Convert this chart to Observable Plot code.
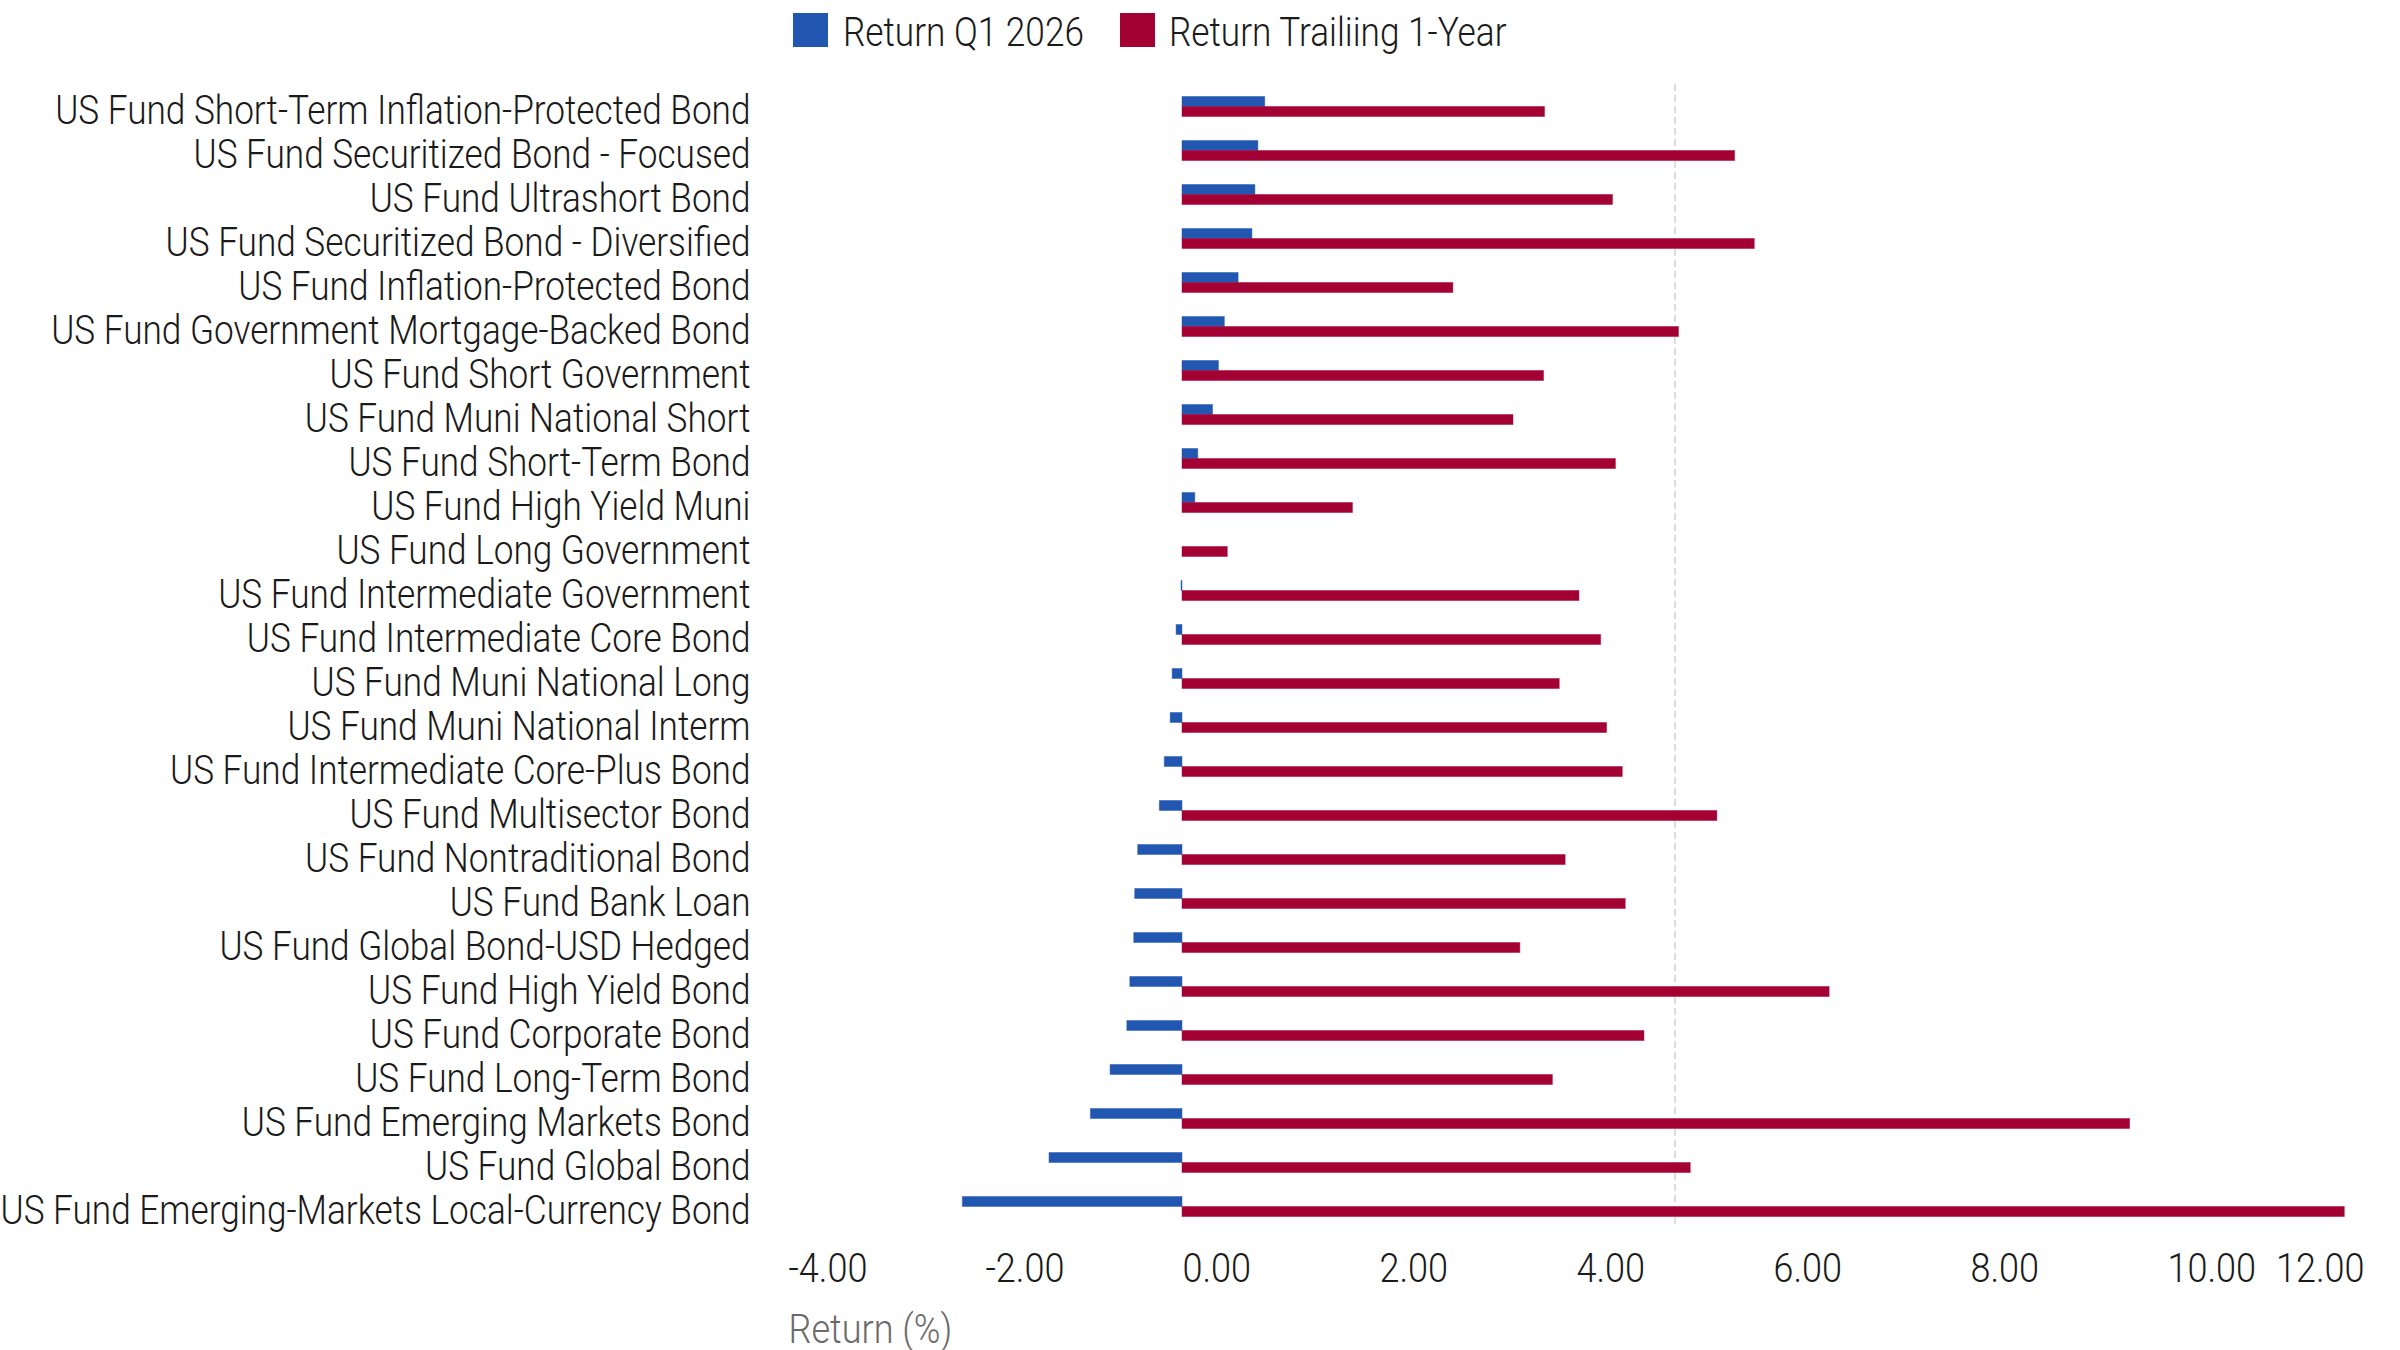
<!DOCTYPE html>
<html>
<head>
<meta charset="utf-8">
<script src="https://cdn.jsdelivr.net/npm/d3@7"></script>
<script src="https://cdn.jsdelivr.net/npm/@observablehq/plot@0.6"></script>
<style>
  html, body { margin: 0; padding: 0; background: #fff; }
  body { width: 2400px; height: 1350px; overflow: hidden;
         font-family: Roboto, "Noto Sans", sans-serif; font-weight: 300; color: #1a1a1a; }
  #legend { position: relative; width: 2400px; height: 60px; }
  .sw { position: absolute; top: 13px; width: 35px; height: 34px; }
  .lt { position: absolute; top: 9px; font-size: 40px; line-height: 48px; white-space: nowrap;
        transform-origin: 0 50%; }
  #chart svg { display: block; }
  #chart svg text { font-weight: 300; }
</style>
</head>
<body>
<div id="legend"></div>
<div id="chart"></div>
<script>
const categories = [
  "US Fund Short-Term Inflation-Protected Bond",
  "US Fund Securitized Bond - Focused",
  "US Fund Ultrashort Bond",
  "US Fund Securitized Bond - Diversified",
  "US Fund Inflation-Protected Bond",
  "US Fund Government Mortgage-Backed Bond",
  "US Fund Short Government",
  "US Fund Muni National Short",
  "US Fund Short-Term Bond",
  "US Fund High Yield Muni",
  "US Fund Long Government",
  "US Fund Intermediate Government",
  "US Fund Intermediate Core Bond",
  "US Fund Muni National Long",
  "US Fund Muni National Interm",
  "US Fund Intermediate Core-Plus Bond",
  "US Fund Multisector Bond",
  "US Fund Nontraditional Bond",
  "US Fund Bank Loan",
  "US Fund Global Bond-USD Hedged",
  "US Fund High Yield Bond",
  "US Fund Corporate Bond",
  "US Fund Long-Term Bond",
  "US Fund Emerging Markets Bond",
  "US Fund Global Bond",
  "US Fund Emerging-Markets Local-Currency Bond"
];
const seriesNames = ["Return Q1 2026", "Return Trailiing 1-Year"];
const returnQ1 = [0.84, 0.77, 0.74, 0.71, 0.57, 0.43, 0.37, 0.31, 0.16, 0.13, 0.00,
  -0.01, -0.06, -0.10, -0.12, -0.18, -0.23, -0.45, -0.48, -0.49, -0.53, -0.56, -0.73, -0.93, -1.35, -2.23];
const returnTrailing = [3.68, 5.61, 4.37, 5.81, 2.75, 5.04, 3.67, 3.36, 4.40, 1.73, 0.46,
  4.03, 4.25, 3.83, 4.31, 4.47, 5.43, 3.89, 4.50, 3.43, 6.57, 4.69, 3.76, 9.62, 5.16, 11.80];
const xTicks = [-4, -2, 0, 2, 4, 6, 8, 10, 12];
const xLabel = ["Return (%)"];
const referenceLine = [5];
const colors = ["#2157b0", "#a30034"];

const data = categories.flatMap((c, i) => [
  {category: c, series: seriesNames[0], value: returnQ1[i]},
  {category: c, series: seriesNames[1], value: returnTrailing[i]}
]);

const fmt = d => d.toFixed(2);
const font = 'Roboto, "Noto Sans", sans-serif';
const lastCategory = categories[categories.length - 1];

const chart = Plot.plot({
  width: 2400,
  height: 1290,
  marginLeft: 788,
  marginRight: 36,
  marginTop: 23.5,
  marginBottom: 122.5,
  style: {fontFamily: font, background: "#fff", color: "#1a1a1a", overflow: "visible"},
  x: {domain: [xTicks[0], xTicks[xTicks.length - 1]]},
  y: {domain: seriesNames, paddingInner: 0, paddingOuter: 1.1, axis: null},
  fy: {domain: categories, padding: 0},
  color: {domain: seriesNames, range: colors},
  marks: [
    Plot.ruleX(referenceLine, {stroke: "#dcdcdc", strokeWidth: 2, strokeDasharray: "7,4"}),
    Plot.barX(data, {x: "value", y: "series", fy: "category", fill: "series",
      stroke: "series", strokeOpacity: 0.45, strokeWidth: 1}),
    Plot.axisFy({anchor: "left", tickSize: 0, tickPadding: 38, fontSize: 40, dy: 5, label: null}),
    Plot.axisX({ticks: xTicks.slice(0, -1), tickSize: 0, tickPadding: 24, textAnchor: "start",
      fontSize: 41, tickFormat: fmt, label: null}),
    Plot.axisX({ticks: xTicks.slice(-1), tickSize: 0, tickPadding: 24, textAnchor: "end",
      fontSize: 41, tickFormat: fmt, label: null}),
    Plot.text(xLabel, {fy: [lastCategory], frameAnchor: "bottom-left", dy: 101, textAnchor: "start",
      lineAnchor: "middle", fontSize: 41, fill: "#6b6b6b", text: d => d})
  ]
});
document.getElementById("chart").append(chart);

// condense the text (the reference uses a condensed typeface)
const texts = Array.from(chart.querySelectorAll("text"));
const longest = texts.find(t => t.textContent === lastCategory);
const condense = longest ? 750 / longest.getComputedTextLength() : 0.85;
texts.forEach(t => {
  const L = t.getComputedTextLength();
  if (L > 0) {
    t.setAttribute("textLength", (L * condense).toFixed(1));
    t.setAttribute("lengthAdjust", "spacingAndGlyphs");
  }
});

// legend
const legend = document.getElementById("legend");
const legendPos = [{sw: 793, tx: 843}, {sw: 1120, tx: 1169}];
seriesNames.forEach((s, i) => {
  const sw = document.createElement("div");
  sw.className = "sw"; sw.style.left = legendPos[i].sw + "px"; sw.style.background = colors[i];
  const t = document.createElement("div");
  t.className = "lt"; t.style.left = legendPos[i].tx + "px"; t.textContent = s;
  t.style.transform = `scaleX(${condense})`;
  legend.append(sw, t);
});
</script>
</body>
</html>
